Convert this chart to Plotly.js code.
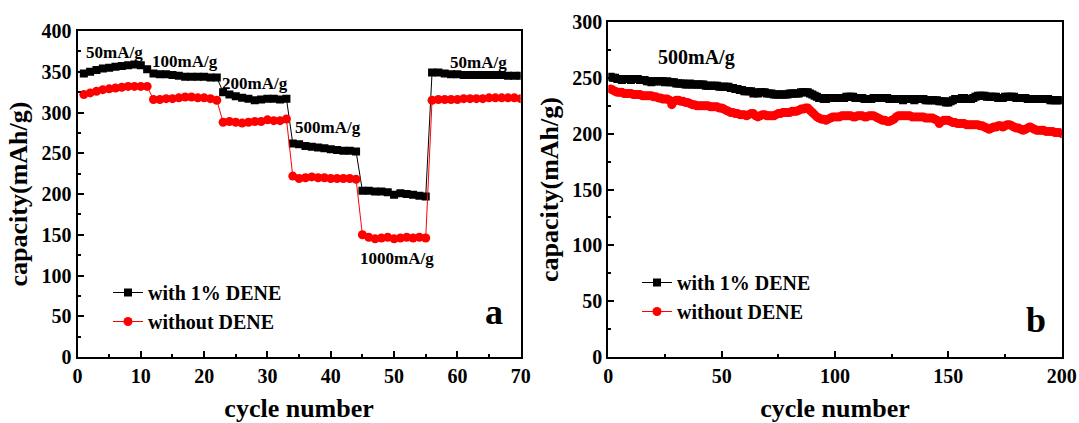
<!DOCTYPE html>
<html>
<head>
<meta charset="utf-8">
<script src="https://cdn.plot.ly/plotly-3.0.1.min.js"></script>
<style>html,body{margin:0;padding:0;background:#fff}#chart{width:1079px;height:423px}</style>
</head>
<body>
<div id="chart"></div>
<script>
// ---- Panel a: rate capability ----
const cyclesA = Array.from({length: 70}, (_, i) => i + 1);
const withDeneA = [
  348, 350, 352, 354, 355, 356, 357, 358, 359, 358, 353,
  348, 347, 347, 346, 345, 344, 344, 344, 344, 343, 343,
  325, 322, 320, 318, 317, 315, 316, 317, 317, 316, 317,
  262, 261, 259, 258, 257, 256, 255, 254, 253, 253, 252,
  204, 204, 203, 203, 202, 199, 201, 200, 199, 198, 197,
  349, 349, 348, 347, 347, 346, 346, 346, 346, 346, 346, 346, 345, 345, 345
];
const withoutDeneA = [
  322, 324, 326, 328, 329, 330, 331, 332, 332, 332, 332,
  316, 316, 317, 317, 318, 319, 319, 318, 318, 317, 315,
  288, 289, 288, 287, 288, 289, 289, 291, 290, 290, 292,
  222, 219, 220, 221, 220, 220, 219, 219, 219, 219, 218,
  150, 147, 145, 146, 147, 145, 146, 147, 146, 147, 146,
  315, 316, 316, 316, 316, 317, 317, 317, 317, 318, 318, 318, 318, 318, 317
];
const rateLabels = ["50mA/g", "100mA/g", "200mA/g", "500mA/g", "1000mA/g", "50mA/g"];
const rateLabelX = [5.9, 17.0, 28.0, 39.6, 50.5, 63.3];
const rateLabelY = [374, 363, 336, 282, 121, 361];

// ---- Panel b: cycling at 500 mA/g ----
const cyclesB = Array.from({length: 200}, (_, i) => i + 1);
const withDeneB = [
  251, 250, 250, 249, 249, 248, 249, 249, 249, 248,
  249, 249, 249, 248, 248, 248, 247, 247, 246, 247,
  247, 247, 247, 247, 246, 247, 246, 246, 246, 245,
  245, 245, 245, 244, 244, 245, 244, 244, 244, 244,
  244, 244, 243, 243, 243, 243, 243, 243, 242, 242,
  242, 242, 242, 241, 241, 240, 240, 239, 239, 238,
  238, 238, 238, 236, 237, 236, 237, 237, 237, 236,
  236, 236, 235, 235, 235, 235, 235, 235, 235, 236,
  236, 236, 236, 236, 237, 237, 237, 237, 236, 235,
  234, 233, 232, 232, 231, 231, 232, 232, 232, 232,
  232, 232, 232, 232, 233, 233, 233, 233, 232, 232,
  232, 232, 231, 231, 231, 231, 232, 232, 232, 232,
  232, 232, 232, 231, 231, 231, 231, 231, 231, 230,
  231, 231, 231, 231, 230, 231, 231, 231, 231, 230,
  230, 230, 230, 230, 230, 229, 229, 229, 228, 228,
  229, 230, 231, 231, 231, 232, 232, 231, 231, 231,
  232, 233, 234, 234, 234, 234, 233, 233, 233, 233,
  233, 232, 232, 232, 233, 233, 233, 233, 233, 232,
  232, 232, 232, 232, 231, 231, 231, 231, 231, 231,
  231, 231, 231, 231, 230, 230, 230, 230, 230, 230
];
const withoutDeneB = [
  240, 239, 238, 237, 237, 237, 236, 236, 236, 236,
  235, 235, 235, 235, 234, 234, 234, 234, 234, 233,
  233, 232, 232, 231, 231, 231, 230, 226, 229, 230,
  230, 229, 229, 228, 228, 227, 226, 226, 225, 225,
  225, 225, 225, 225, 224, 224, 224, 224, 223, 223,
  222, 221, 220, 219, 219, 218, 218, 217, 217, 217,
  216, 217, 218, 218, 216, 215, 216, 217, 217, 216,
  216, 216, 216, 217, 218, 218, 219, 219, 219, 219,
  220, 220, 220, 221, 222, 222, 223, 223, 221, 219,
  217, 215, 214, 213, 213, 212, 213, 214, 215, 215,
  215, 215, 216, 216, 216, 216, 216, 215, 215, 216,
  216, 216, 215, 215, 216, 216, 216, 215, 214, 213,
  212, 212, 211, 211, 212, 213, 215, 216, 216, 216,
  216, 216, 216, 215, 215, 215, 215, 215, 215, 214,
  214, 214, 214, 213, 212, 209, 211, 212, 212, 212,
  211, 210, 210, 209, 209, 209, 209, 208, 208, 208,
  208, 208, 208, 207, 207, 206, 205, 204, 205, 206,
  206, 207, 207, 206, 207, 208, 208, 207, 206, 205,
  205, 204, 203, 204, 205, 206, 205, 204, 203, 203,
  203, 203, 202, 202, 202, 202, 201, 201, 201, 200
];

const seriesNames = ["with 1% DENE", "without DENE"];
const FONT = "Liberation Serif, Times New Roman, serif";
const W = 1079, H = 423;
const px = v => v / W;
const py = v => 1 - v / H;

const traces = [
  {x: cyclesA, y: withDeneA, name: seriesNames[0], type: "scatter", mode: "lines+markers",
   line: {color: "#000000", width: 1}, marker: {symbol: "square", size: 8, color: "#000000"},
   xaxis: "x", yaxis: "y", legend: "legend"},
  {x: cyclesA, y: withoutDeneA, name: seriesNames[1], type: "scatter", mode: "lines+markers",
   line: {color: "#ff0000", width: 1}, marker: {symbol: "circle", size: 9, color: "#ff0000"},
   xaxis: "x", yaxis: "y", legend: "legend"},
  {x: cyclesB, y: withDeneB, name: seriesNames[0], type: "scatter", mode: "lines+markers",
   line: {color: "#000000", width: 1}, marker: {symbol: "square", size: 8, color: "#000000"},
   xaxis: "x2", yaxis: "y2", legend: "legend2"},
  {x: cyclesB, y: withoutDeneB, name: seriesNames[1], type: "scatter", mode: "lines+markers",
   line: {color: "#ff0000", width: 1}, marker: {symbol: "circle", size: 9, color: "#ff0000"},
   xaxis: "x2", yaxis: "y2", legend: "legend2"}
];

const axisBase = {
  showgrid: false, zeroline: false, showline: true, linecolor: "#000", linewidth: 2,
  mirror: true, ticks: "inside", ticklen: 6, tickwidth: 2, tickcolor: "#000",
  tickfont: {family: FONT, size: 20, color: "#000", weight: "bold"},
  minor: {ticks: "inside", ticklen: 3, tickwidth: 2, tickcolor: "#000"}
};
const titleFont = {family: FONT, size: 26, color: "#000", weight: "bold"};

const annotations = [];
rateLabels.forEach((t, i) => annotations.push({
  text: t, x: rateLabelX[i], y: rateLabelY[i], xref: "x", yref: "y", showarrow: false,
  font: {family: FONT, size: 17, color: "#000", weight: "bold"}
}));
annotations.push({text: "500mA/g", x: 38.7, y: 268, xref: "x2", yref: "y2", showarrow: false,
  font: {family: FONT, size: 20, color: "#000", weight: "bold"}});
annotations.push({text: "a", x: 65.8, y: 55, xref: "x", yref: "y", showarrow: false,
  font: {family: FONT, size: 36, color: "#000", weight: "bold"}});
annotations.push({text: "b", x: 188.6, y: 33, xref: "x2", yref: "y2", showarrow: false,
  font: {family: FONT, size: 36, color: "#000", weight: "bold"}});

const legendBase = {
  font: {family: FONT, size: 20, color: "#000", weight: "bold"},
  bgcolor: "rgba(0,0,0,0)", borderwidth: 0, xanchor: "left", yanchor: "middle",
  tracegroupgap: 0
};

const layout = {
  width: W, height: H,
  margin: {l: 0, r: 0, t: 0, b: 0},
  paper_bgcolor: "#fff", plot_bgcolor: "#fff",
  font: {family: FONT, color: "#000", weight: "bold"},
  xaxis: Object.assign({}, axisBase, {
    domain: [px(77.5), px(520.7)], range: [0, 70], dtick: 10, tick0: 0,
    minor: Object.assign({}, axisBase.minor, {dtick: 5}),
    anchor: "y", title: {text: "cycle number", font: titleFont, standoff: 18}
  }),
  yaxis: Object.assign({}, axisBase, {
    domain: [py(357), py(31)], range: [0, 400], dtick: 50, tick0: 0,
    minor: Object.assign({}, axisBase.minor, {dtick: 25}),
    anchor: "x", title: {text: "capacity(mAh/g)", font: titleFont, standoff: 6}
  }),
  xaxis2: Object.assign({}, axisBase, {
    domain: [px(608.3), px(1061.7)], range: [0, 200], dtick: 50, tick0: 0,
    minor: Object.assign({}, axisBase.minor, {dtick: 25}),
    anchor: "y2", title: {text: "cycle number", font: titleFont, standoff: 18}
  }),
  yaxis2: Object.assign({}, axisBase, {
    domain: [py(357), py(22)], range: [0, 300], dtick: 50, tick0: 0,
    minor: Object.assign({}, axisBase.minor, {dtick: 25}),
    anchor: "x2", title: {text: "capacity(mAh/g)", font: titleFont, standoff: 6}
  }),
  legend: Object.assign({}, legendBase, {x: px(108), y: py(307)}),
  legend2: Object.assign({}, legendBase, {x: px(637), y: py(297)}),
  annotations: annotations
};

Plotly.newPlot("chart", traces, layout, {displayModeBar: false, staticPlot: true});
</script>
</body>
</html>
